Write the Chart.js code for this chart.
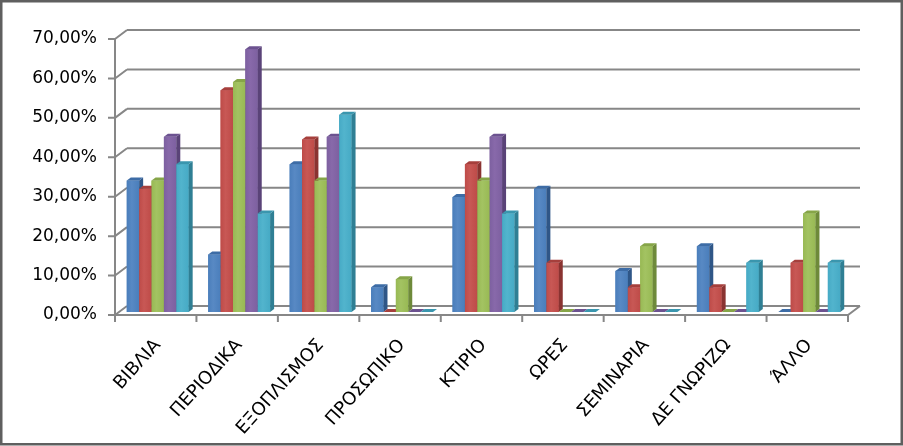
<!DOCTYPE html>
<html><head><meta charset="utf-8">
<script src="https://cdn.jsdelivr.net/npm/chart.js@4/dist/chart.umd.min.js"></script>
<style>html,body{margin:0;padding:0;background:#fff}#wrap{width:903px;height:446px;position:relative}canvas{display:block}</style>
</head><body><div id="wrap"><canvas id="c" width="903" height="446"></canvas></div>
<script>
// ---- data ----
const categories = ['ΒΙΒΛΙΑ','ΠΕΡΙΟΔΙΚΑ','ΕΞΟΠΛΙΣΜΟΣ','ΠΡΟΣΩΠΙΚΟ','ΚΤΙΡΙΟ','ΩΡΕΣ','ΣΕΜΙΝΑΡΙΑ','ΔΕ ΓΝΩΡΙΖΩ','ΆΛΛΟ'];
const seriesNames = ['Σειρά 1','Σειρά 2','Σειρά 3','Σειρά 4','Σειρά 5'];
const series1 = [33.33, 14.58, 37.50, 6.25, 29.17, 31.25, 10.42, 16.67, 0];
const series2 = [31.25, 56.25, 43.75, 0, 37.50, 12.50, 6.25, 6.25, 12.50];
const series3 = [33.33, 58.33, 33.33, 8.33, 33.33, 0, 16.67, 0, 25.00];
const series4 = [44.44, 66.67, 44.44, 0, 44.44, 0, 0, 0, 0];
const series5 = [37.50, 25.00, 50.00, 0, 25.00, 0, 0, 12.50, 12.50];
const yTickValues = [0, 10, 20, 30, 40, 50, 60, 70];

// ---- styles ----
const frontColors = ['#4a7ebb','#be4b48','#98b954','#7d60a0','#46aac5'];
const lightColors = ['#5889c4','#c85855','#a3c362','#8869aa','#52b4cd'];
const sideColors  = ['#2f5687','#8a3331','#6e8a3a','#5a4378','#2f7f94'];
const topColors   = ['#3d6ca6','#a63f3c','#86a548','#6c5290','#3a96ae'];
const FRONT = {dx:-2, dy:3};
const BACK  = {dx:10, dy:-6};
const DEPTH = {dx:4, dy:-3};
const gridColor = '#878787';
const labelAngle = 48;

const allSeries = [series1, series2, series3, series4, series5];

const frame3d = {
  id: 'frame3d',
  beforeDatasetsDraw(chart) {
    const ctx = chart.ctx, ca = chart.chartArea, ys = chart.scales.y;
    ctx.save();
    ctx.strokeStyle = gridColor; ctx.lineWidth = 2; ctx.lineCap = 'butt';
    ys.ticks.forEach(t => {
      const py = ys.getPixelForValue(t.value);
      ctx.beginPath();
      ctx.moveTo(ca.left + BACK.dx, py + BACK.dy);
      ctx.lineTo(ca.right + BACK.dx, py + BACK.dy);
      ctx.moveTo(ca.left + FRONT.dx, py + FRONT.dy);
      ctx.lineTo(ca.left + BACK.dx, py + BACK.dy);
      ctx.moveTo(ca.left + FRONT.dx - 7, py + FRONT.dy);
      ctx.lineTo(ca.left + FRONT.dx, py + FRONT.dy);
      ctx.stroke();
    });
    const base = ys.getPixelForValue(0), top = ys.getPixelForValue(ys.max);
    ctx.beginPath();
    ctx.moveTo(ca.left + FRONT.dx, top + FRONT.dy);
    ctx.lineTo(ca.left + FRONT.dx, base + FRONT.dy + 7);
    ctx.moveTo(ca.left + FRONT.dx, base + FRONT.dy);
    ctx.lineTo(ca.right + FRONT.dx, base + FRONT.dy);
    ctx.lineTo(ca.right + BACK.dx, base + BACK.dy);
    ctx.stroke();
    const n = categories.length, w = (ca.right - ca.left) / n;
    ctx.beginPath();
    for (let i = 0; i <= n; i++) {
      const bx = ca.left + i * w + FRONT.dx;
      ctx.moveTo(bx, base + FRONT.dy);
      ctx.lineTo(bx, base + FRONT.dy + 7);
    }
    ctx.stroke();
    ctx.restore();
  },
  afterDatasetsDraw(chart) {
    const ctx = chart.ctx;
    ctx.save();
    for (let i = 0; i < chart.data.datasets.length; i++) {
      const meta = chart.getDatasetMeta(i);
      meta.data.forEach(el => {
        const p = el.getProps(['x','y','base','width'], true);
        const l = p.x - p.width/2, r = p.x + p.width/2;
        const top = Math.min(p.y, p.base), bot = Math.max(p.y, p.base);
        if (bot - top > 0.5) {
          const g = ctx.createLinearGradient(l, 0, r, 0);
          g.addColorStop(0, frontColors[i]);
          g.addColorStop(0.4, lightColors[i]);
          g.addColorStop(1, frontColors[i]);
          ctx.fillStyle = g;
          ctx.fillRect(l, top, r - l, bot - top);
        }
        ctx.fillStyle = sideColors[i];
        ctx.beginPath();
        ctx.moveTo(r, top); ctx.lineTo(r + DEPTH.dx, top + DEPTH.dy);
        ctx.lineTo(r + DEPTH.dx, bot + DEPTH.dy); ctx.lineTo(r, bot); ctx.closePath(); ctx.fill();
        ctx.fillStyle = topColors[i];
        ctx.beginPath();
        ctx.moveTo(l, top); ctx.lineTo(l + DEPTH.dx, top + DEPTH.dy);
        ctx.lineTo(r + DEPTH.dx, top + DEPTH.dy); ctx.lineTo(r, top); ctx.closePath(); ctx.fill();
      });
    }
    ctx.restore();
  },
  afterDraw(chart) {
    const ctx = chart.ctx;
    ctx.save();
    ctx.strokeStyle = '#5f5f5f'; ctx.lineWidth = 2.5;
    ctx.strokeRect(1.25, 1.25, 900.5, 443);
    ctx.restore();
  }
};

new Chart(document.getElementById('c'), {
  type: 'bar',
  data: {
    labels: categories,
    datasets: allSeries.map((d, i) => ({
      label: seriesNames[i], data: d,
      backgroundColor: frontColors[i], borderWidth: 0,
      categoryPercentage: 0.76, barPercentage: 1.0
    }))
  },
  options: {
    responsive: false, animation: false, devicePixelRatio: 1,
    layout: {padding: {top: 36, right: 53, left: 0, bottom: 0}},
    plugins: {legend: {display: false}, tooltip: {enabled: false}},
    scales: {
      x: {
        grid: {display: false, drawTicks: false}, border: {display: false},
        ticks: {maxRotation: labelAngle, minRotation: labelAngle, autoSkip: false, padding: 23,
          color: '#000', font: {family: 'DejaVu Sans', size: 18}},
        afterCalculateLabelRotation: s => { s.labelRotation = labelAngle; },
        afterFit: s => { s.height = 134; }
      },
      y: {
        min: 0, max: 70,
        grid: {display: false, drawTicks: false}, border: {display: false},
        afterBuildTicks: s => { s.ticks = yTickValues.map(v => ({value: v})); },
        ticks: {padding: 20, labelOffset: 3, color: '#000',
          font: {family: 'DejaVu Sans', size: 17},
          callback: v => v.toFixed(2).replace('.', ',') + '%'},
        afterFit: s => { s.width = 117; }
      }
    }
  },
  plugins: [frame3d]
});
</script></body></html>
